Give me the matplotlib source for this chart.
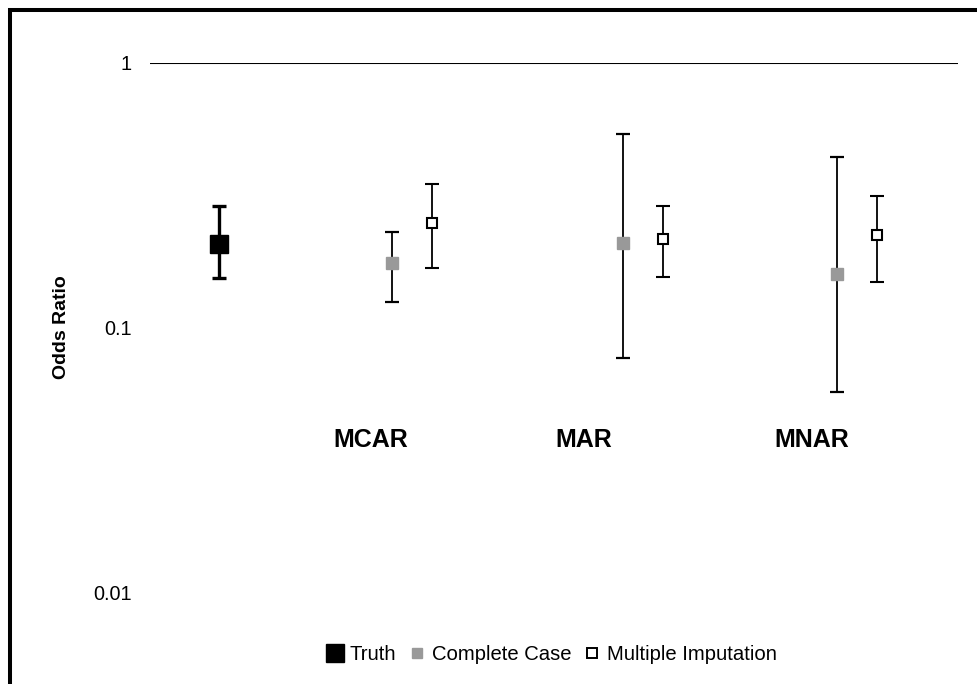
import matplotlib
matplotlib.use('Agg')
import matplotlib.pyplot as plt
from matplotlib.lines import Line2D
from matplotlib.patches import Rectangle
import numpy as np

plt.rcParams['font.family'] = ['Liberation Sans', 'DejaVu Sans']

# values (odds ratio, lower CI, upper CI)
truth_est, truth_lo, truth_hi = 0.207, 0.154, 0.289
categories = ["MCAR", "MAR", "MNAR"]
cc_est = [0.175, 0.208, 0.160]
cc_lo = [0.125, 0.077, 0.057]
cc_hi = [0.230, 0.540, 0.440]
mi_est = [0.248, 0.216, 0.223]
mi_lo = [0.168, 0.155, 0.149]
mi_hi = [0.350, 0.288, 0.315]

# horizontal positions
truth_x = 0.68
cc_x = [2.40, 4.68, 6.80]
mi_x = [2.79, 5.08, 7.20]
label_x = [2.19, 4.29, 6.55]

fig = plt.figure(figsize=(9.78, 6.84), dpi=100)
ax = fig.add_axes([150 / 978, 1 - 592 / 684, 808 / 978, (592 - 63) / 684])
ax.set_yscale('log')
ax.set_ylim(0.01, 1)
ax.set_xlim(0, 8)

ax.axhline(1, color='black', lw=1.5, zorder=1)

# truth
ax.errorbar([truth_x], [truth_est],
            yerr=[[truth_est - truth_lo], [truth_hi - truth_est]],
            fmt='s', color='black', ms=13.5, ecolor='black', elinewidth=2.4,
            capsize=5.3, capthick=2.4, zorder=3)

# complete case
cc_est_a = np.array(cc_est)
ax.errorbar(cc_x, cc_est,
            yerr=[cc_est_a - np.array(cc_lo), np.array(cc_hi) - cc_est_a],
            fmt='s', mfc='#999999', mec='#999999', ms=8, ecolor='black',
            elinewidth=1.3, capsize=5, capthick=1.6, zorder=3)

# multiple imputation
mi_est_a = np.array(mi_est)
ax.errorbar(mi_x, mi_est,
            yerr=[mi_est_a - np.array(mi_lo), np.array(mi_hi) - mi_est_a],
            fmt='s', mfc='white', mec='black', mew=1.5, ms=7.5, ecolor='black',
            elinewidth=1.3, capsize=5, capthick=1.6, zorder=3)

for lx, name in zip(label_x, categories):
    ax.text(lx, 0.0375, name, ha='center', va='center', fontsize=18,
            fontweight='bold')

ax.set_yticks([0.01, 0.1, 1])
ax.set_yticklabels(['0.01', '0.1', '1'])
ax.yaxis.set_minor_locator(matplotlib.ticker.NullLocator())
ax.tick_params(axis='y', length=0, pad=13, labelsize=14.3)
ax.set_xticks([])
for s in ax.spines.values():
    s.set_visible(False)

fig.text(62 / 978, 1 - 327 / 684, 'Odds Ratio', rotation=90, ha='center',
         va='center', fontsize=14, fontweight='bold')

handles = [
    Line2D([], [], ls='none', marker='s', color='black', ms=13.5),
    Line2D([], [], ls='none', marker='s', mfc='#999999', mec='#999999', ms=7.5),
    Line2D([], [], ls='none', marker='s', mfc='white', mec='black', mew=1.4, ms=7),
]
fig.legend(handles, ['Truth', 'Complete Case', 'Multiple Imputation'],
           loc='center', bbox_to_anchor=(551 / 978, 1 - 655 / 684), ncol=3,
           frameon=False, prop={'size': 14.6}, handlelength=0.95,
           handletextpad=0.25, columnspacing=0.55, borderaxespad=0)

# outer frame (only top and left visible)
fig.add_artist(Rectangle((10.3 / 978, -0.5), 2, 1.5 - 10.3 / 684,
                         transform=fig.transFigure, fill=False,
                         lw=2.9, edgecolor='black', clip_on=False))

fig.savefig('out.png', dpi=100)
